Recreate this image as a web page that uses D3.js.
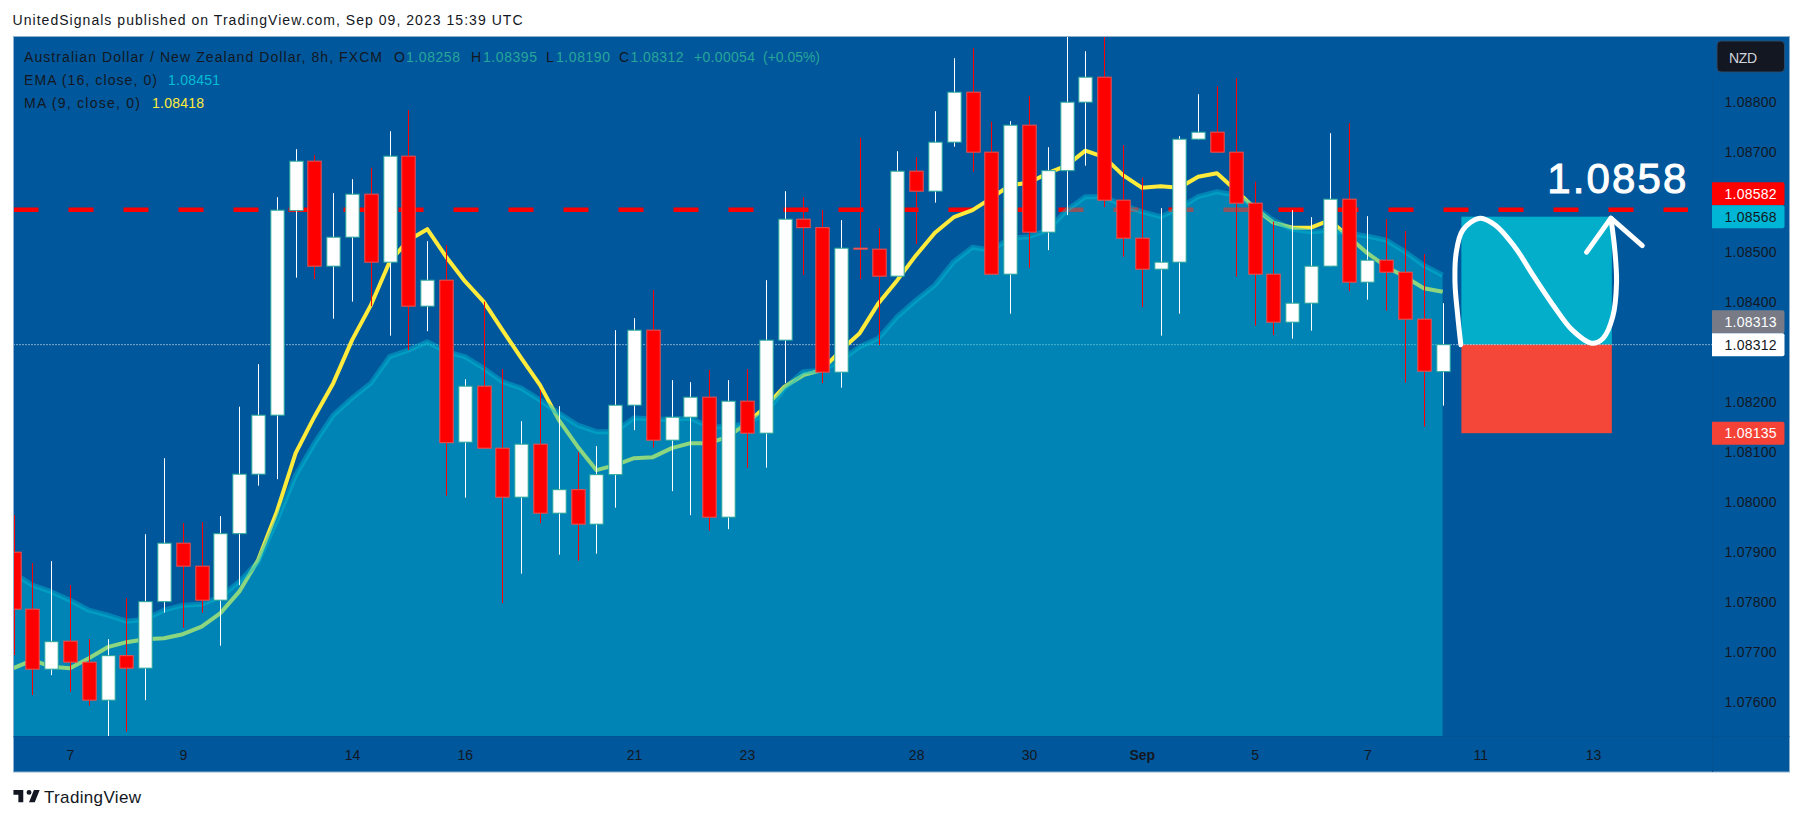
<!DOCTYPE html>
<html><head><meta charset="utf-8">
<script src="https://cdn.jsdelivr.net/npm/d3@7"></script>
<style>html,body{margin:0;padding:0;background:#fff}svg{display:block}text{font-family:"Liberation Sans",sans-serif}</style>
</head><body><svg id="c" width="1803" height="820"></svg>
<script>
const opens=[1.07897,1.07783,1.07663,1.07719,1.07677,1.07601,1.07690,1.07665,1.07798,1.07915,1.07869,1.07801,1.07934,1.08053,1.08171,1.08580,1.08679,1.08469,1.08527,1.08613,1.08477,1.08689,1.08389,1.08441,1.08117,1.08229,1.08105,1.08007,1.08113,1.07975,1.08022,1.07953,1.08052,1.08191,1.08341,1.08121,1.08167,1.08207,1.07967,1.08199,1.08135,1.08321,1.08563,1.08546,1.08257,1.08505,1.08503,1.08449,1.08659,1.08619,1.08717,1.08817,1.08697,1.08453,1.08751,1.08537,1.08660,1.08797,1.08847,1.08601,1.08525,1.08463,1.08477,1.08723,1.08737,1.08697,1.08595,1.08453,1.08357,1.08395,1.08469,1.08603,1.08437,1.08481,1.08457,1.08363,1.08258];
const closes=[1.07783,1.07663,1.07718,1.07677,1.07601,1.07690,1.07665,1.07798,1.07915,1.07869,1.07801,1.07934,1.08053,1.08171,1.08581,1.08679,1.08469,1.08527,1.08613,1.08477,1.08689,1.08389,1.08441,1.08116,1.08229,1.08105,1.08007,1.08113,1.07975,1.08022,1.07953,1.08052,1.08191,1.08341,1.08121,1.08167,1.08207,1.07967,1.08199,1.08135,1.08321,1.08563,1.08546,1.08257,1.08505,1.08503,1.08449,1.08659,1.08619,1.08717,1.08817,1.08697,1.08453,1.08751,1.08537,1.08660,1.08797,1.08847,1.08601,1.08525,1.08463,1.08477,1.08723,1.08737,1.08697,1.08595,1.08453,1.08357,1.08395,1.08469,1.08603,1.08437,1.08481,1.08457,1.08363,1.08259,1.08312];
const highs=[1.07971,1.07875,1.07879,1.07831,1.07723,1.07723,1.07805,1.07933,1.08085,1.07955,1.07957,1.07969,1.08188,1.08273,1.08607,1.08703,1.08691,1.08615,1.08643,1.08666,1.08739,1.08781,1.08519,1.08511,1.08243,1.08398,1.08263,1.08159,1.08221,1.08189,1.08097,1.08109,1.08341,1.08365,1.08421,1.08241,1.08237,1.08261,1.08241,1.08263,1.08441,1.08619,1.08607,1.08581,1.08561,1.08726,1.08545,1.08699,1.08687,1.08779,1.08885,1.08905,1.08758,1.08759,1.08809,1.08707,1.08941,1.08899,1.08941,1.08711,1.08646,1.08585,1.08729,1.08813,1.08829,1.08845,1.08638,1.08558,1.08581,1.08567,1.08735,1.08755,1.08569,1.08563,1.08539,1.08493,1.08395];
const lows=[1.07691,1.07611,1.07651,1.07618,1.07590,1.07525,1.07538,1.07601,1.07776,1.07746,1.07776,1.07710,1.07831,1.08030,1.08043,1.08446,1.08443,1.08364,1.08398,1.08389,1.08330,1.08301,1.08339,1.08010,1.08006,1.08105,1.07795,1.07854,1.07955,1.07892,1.07880,1.07894,1.07986,1.08141,1.08106,1.08019,1.07971,1.07940,1.07943,1.08066,1.08066,1.08235,1.08451,1.08235,1.08226,1.08443,1.08311,1.08448,1.08513,1.08596,1.08708,1.08658,1.08452,1.08374,1.08466,1.08501,1.08571,1.08670,1.08587,1.08488,1.08387,1.08330,1.08374,1.08722,1.08696,1.08448,1.08350,1.08331,1.08324,1.08340,1.08468,1.08419,1.08402,1.08380,1.08236,1.08148,1.08190];
const ma9=[1.07665,1.07681,1.07668,1.07665,1.07685,1.07707,1.07717,1.07723,1.07725,1.07733,1.07748,1.07775,1.07818,1.07881,1.07978,1.08095,1.08168,1.08235,1.08321,1.08391,1.08478,1.08521,1.08543,1.08488,1.08439,1.08398,1.08341,1.08285,1.08231,1.08161,1.08108,1.08061,1.08071,1.08085,1.08087,1.08105,1.08115,1.08115,1.08128,1.08155,1.08188,1.08228,1.08251,1.08261,1.08301,1.08335,1.08395,1.08441,1.08491,1.08536,1.08567,1.08581,1.08605,1.08631,1.08636,1.08655,1.08670,1.08700,1.08687,1.08651,1.08626,1.08629,1.08626,1.08648,1.08655,1.08621,1.08585,1.08556,1.08546,1.08546,1.08561,1.08528,1.08495,1.08468,1.08448,1.08425,1.08418];
const ema16=[1.07855,1.07831,1.07818,1.07801,1.07781,1.07771,1.07759,1.07763,1.07781,1.07791,1.07793,1.07808,1.07838,1.07878,1.07961,1.08051,1.08115,1.08171,1.08205,1.08235,1.08288,1.08301,1.08318,1.08298,1.08288,1.08265,1.08238,1.08225,1.08201,1.08175,1.08151,1.08138,1.08138,1.08166,1.08163,1.08163,1.08165,1.08148,1.08148,1.08155,1.08175,1.08225,1.08258,1.08261,1.08281,1.08308,1.08325,1.08368,1.08401,1.08431,1.08478,1.08507,1.08501,1.08525,1.08528,1.08541,1.08581,1.08608,1.08608,1.08591,1.08578,1.08568,1.08585,1.08608,1.08618,1.08611,1.08588,1.08561,1.08543,1.08538,1.08541,1.08535,1.08529,1.08521,1.08498,1.08471,1.08451];
const priceTicks=[1.076,1.077,1.078,1.079,1.08,1.081,1.082,1.084,1.085,1.087,1.088];
const dateTickBars=[3,9,18,24,33,39,48,54,60,66,72,78,84];
const dateTickLabels=["7","9","14","16","21","23","28","30","Sep","5","7","11","13"];
const resistance=1.08582, lastClose=1.08312, lastPrev=1.08313, targetPrice=1.08568, stopPrice=1.08135;
const positionBars=[77,85];
const brushBars=[76.97,76.81,76.66,76.72,77.07,77.99,78.81,79.83,80.86,81.88,82.90,83.93,84.54,85.05,85.25,85.16,84.95];
const brushPrices=[1.08312,1.08368,1.08435,1.08495,1.08541,1.08565,1.08551,1.08508,1.08448,1.08391,1.08341,1.08315,1.08325,1.08368,1.08435,1.08501,1.08565];
const arrowBars=[83.66,84.95,86.62];
const arrowPrices=[1.08497,1.08565,1.08510];

const BG="#01579b",INK="#131722",TEAL="#00bcd4",YEL="#ffeb3b",UP="#26a69a",DOWN="#ef5350";
const L=13.5,T=36.5,R=1789.5,B=772,AX=1712,TB=736;
const svg=d3.select("#c");
const x=d3.scaleLinear().domain([0,76]).range([13.6,1442.6]);
const y=d3.scaleLinear().domain([1.076,1.088]).range([700.67,100.67]);
const idx=d3.range(opens.length);

svg.append("rect").attr("x",L).attr("y",T).attr("width",R-L).attr("height",B-T).attr("fill",BG).attr("stroke","#8fb0cc").attr("stroke-width",1);
svg.append("line").attr("x1",AX+.5).attr("x2",AX+.5).attr("y1",T+40).attr("y2",B).attr("stroke","#015394");
svg.append("line").attr("x1",L).attr("x2",R).attr("y1",TB+.5).attr("y2",TB+.5).attr("stroke","#015394");

svg.append("defs").append("clipPath").attr("id","plot").append("rect").attr("x",L+.5).attr("y",T+.5).attr("width",AX-L-.5).attr("height",TB-T-.5);
const p=svg.append("g").attr("clip-path","url(#plot)");

// dashed horizontal level
p.append("line").attr("x1",L).attr("x2",1688).attr("y1",y(resistance)).attr("y2",y(resistance))
 .attr("stroke","#ff0000").attr("stroke-width",4.5).attr("stroke-dasharray","25 30");
// dotted last price
p.append("line").attr("x1",L).attr("x2",AX).attr("y1",y(lastClose)).attr("y2",y(lastClose))
 .attr("stroke","#fff").attr("stroke-width",1).attr("stroke-dasharray","1 2");
// MA
p.append("path").attr("d",d3.line().x(i=>x(i)).y(i=>y(ma9[i]))(idx)).attr("fill","none").attr("stroke",YEL).attr("stroke-width",4).attr("stroke-linejoin","round");
// EMA area
p.append("path").attr("d",d3.area().x(i=>x(i)).y0(TB).y1(i=>y(ema16[i]))(idx)).attr("fill",TEAL).attr("fill-opacity",.45);
p.append("path").attr("d",d3.line().x(i=>x(i)).y(i=>y(ema16[i]))(idx)).attr("fill","none").attr("stroke",TEAL).attr("stroke-opacity",.45).attr("stroke-width",5).attr("stroke-linejoin","round");

// candles
const cw=13.4;
const up=i=>closes[i]>=opens[i];
p.selectAll(".w").data(idx).join("line").attr("x1",i=>Math.round(x(i))+.5).attr("x2",i=>Math.round(x(i))+.5)
 .attr("y1",i=>y(highs[i])).attr("y2",i=>y(lows[i])).attr("stroke",i=>up(i)?"#fff":"#ff0000").attr("stroke-width",1);
p.selectAll(".b").data(idx).join("rect").attr("x",i=>Math.round(x(i))+.5-cw/2).attr("width",cw)
 .attr("y",i=>y(Math.max(opens[i],closes[i]))).attr("height",i=>Math.max(.5,y(Math.min(opens[i],closes[i]))-y(Math.max(opens[i],closes[i]))))
 .attr("fill",i=>up(i)?"#fff":"#ff0000").attr("stroke",i=>up(i)?UP:DOWN).attr("stroke-width",1);

// position box
const xa=x(positionBars[0]), xb=x(positionBars[1]);
p.append("rect").attr("x",xa).attr("width",xb-xa).attr("y",y(targetPrice)).attr("height",y(lastClose)-y(targetPrice)).attr("fill","#03aecb");
p.append("rect").attr("x",xa).attr("width",xb-xa).attr("y",y(lastClose)).attr("height",y(stopPrice)-y(lastClose)).attr("fill","#f44639");
p.append("line").attr("x1",xa).attr("x2",xb).attr("y1",y(lastClose)).attr("y2",y(lastClose)).attr("stroke","#fff").attr("stroke-width",1).attr("stroke-dasharray","1 2");
// brush
const brushIdx=d3.range(brushBars.length);
p.append("path").attr("d",d3.line().curve(d3.curveCatmullRom).x(i=>x(brushBars[i])).y(i=>y(brushPrices[i]))(brushIdx))
 .attr("fill","none").attr("stroke","#fff").attr("stroke-width",5).attr("stroke-linecap","round").attr("stroke-linejoin","round");
p.append("path").attr("d",d3.line().x(i=>x(arrowBars[i])).y(i=>y(arrowPrices[i]))(d3.range(arrowBars.length)))
 .attr("fill","none").attr("stroke","#fff").attr("stroke-width",5).attr("stroke-linecap","round").attr("stroke-linejoin","round");
p.append("text").attr("x",x(81.57)).attr("y",y(1.08615)).attr("font-size",42).attr("fill","#fff").attr("stroke","#fff").attr("stroke-width",1).attr("textLength",139).text("1.0858");

// axes
const fs=14;
const ya=svg.append("g").attr("transform",`translate(1724.5,1)`).call(d3.axisRight(y).tickValues(priceTicks).tickFormat(d3.format(".5f")).tickSize(0).tickPadding(0));
ya.select(".domain").remove();
ya.selectAll("text").attr("fill",INK).attr("font-size",fs).attr("font-family",'"Liberation Sans",sans-serif').attr("textLength",52);
const xa2=svg.append("g").attr("transform",`translate(0,${TB})`).call(d3.axisBottom(x).tickValues(dateTickBars).tickFormat((d,i)=>dateTickLabels[i]).tickSize(0).tickPadding(14));
xa2.select(".domain").remove();
xa2.selectAll("text").attr("fill",INK).attr("font-size",fs).attr("font-family",'"Liberation Sans",sans-serif').attr("font-weight",d=>d===60?"bold":null);

// price badges
const badges=[
 {v:"1.08582",cy:y(targetPrice)-23,f:"#ff0000",t:"#fff"},
 {v:"1.08568",cy:y(targetPrice),f:"#00b6d6",t:INK},
 {v:"1.08313",cy:y(lastClose)-23,f:"#787b86",t:"#fff"},
 {v:"1.08312",cy:y(lastClose),f:"#fff",t:INK},
 {v:"1.08135",cy:y(stopPrice),f:"#f44336",t:"#fff"}];
const bg=svg.append("g");
bg.selectAll("path").data(badges).join("path")
 .attr("d",d=>`M${AX},${d.cy-11.5}H1782.5a2,2 0 0 1 2,2V${d.cy+9.5}a2,2 0 0 1 -2,2H${AX}Z`).attr("fill",d=>d.f);
bg.selectAll("text").data(badges).join("text").attr("x",1724.5).attr("y",d=>d.cy).attr("dy",".36em")
 .attr("font-size",fs).attr("fill",d=>d.t).attr("textLength",52).text(d=>d.v);

// NZD box
svg.append("rect").attr("x",1717).attr("y",41).attr("width",67.5).attr("height",31).attr("rx",4).attr("fill",INK).attr("stroke","#2a4a6b");
svg.append("text").attr("x",1729).attr("y",63).attr("font-size",14).attr("fill","#d1d4dc").attr("textLength",28).text("NZD");

// header and legend
function lbl(tx,xx,yy,col,w,size){const t=svg.append("text").attr("x",xx).attr("y",yy).attr("font-size",size||14).attr("fill",col).text(tx);if(w)t.attr("textLength",w);return t;}
lbl("UnitedSignals published on TradingView.com, Sep 09, 2023 15:39 UTC",12.5,25,INK,510);
const G="#26a69a";
lbl("Australian Dollar / New Zealand Dollar, 8h, FXCM",24,62,INK,358);
lbl("O",394,62,INK);lbl("1.08258",406,62,G,54);
lbl("H",471,62,INK);lbl("1.08395",483,62,G,54);
lbl("L",546,62,INK);lbl("1.08190",556,62,G,54);
lbl("C",619,62,INK);lbl("1.08312",630.5,62,G,53);
lbl("+0.00054",694,62,G,61);lbl("(+0.05%)",763,62,G,57);
lbl("EMA (16, close, 0)",24,85,INK,133);lbl("1.08451",168,85,TEAL,52);
lbl("MA (9, close, 0)",24,108,INK,116);lbl("1.08418",152,108,YEL,52);

// TradingView logo
svg.append("path").attr("d","M14 6H2v6h6v9h6V6zm14 15h-7l6-15h7l-6 15zm-7-9a3 3 0 1 0 0-6 3 3 0 0 0 0 6z").attr("transform","translate(11.8,785) scale(.82)").attr("fill",INK);
lbl("TradingView",44,802.5,INK,97,17);
</script></body></html>
